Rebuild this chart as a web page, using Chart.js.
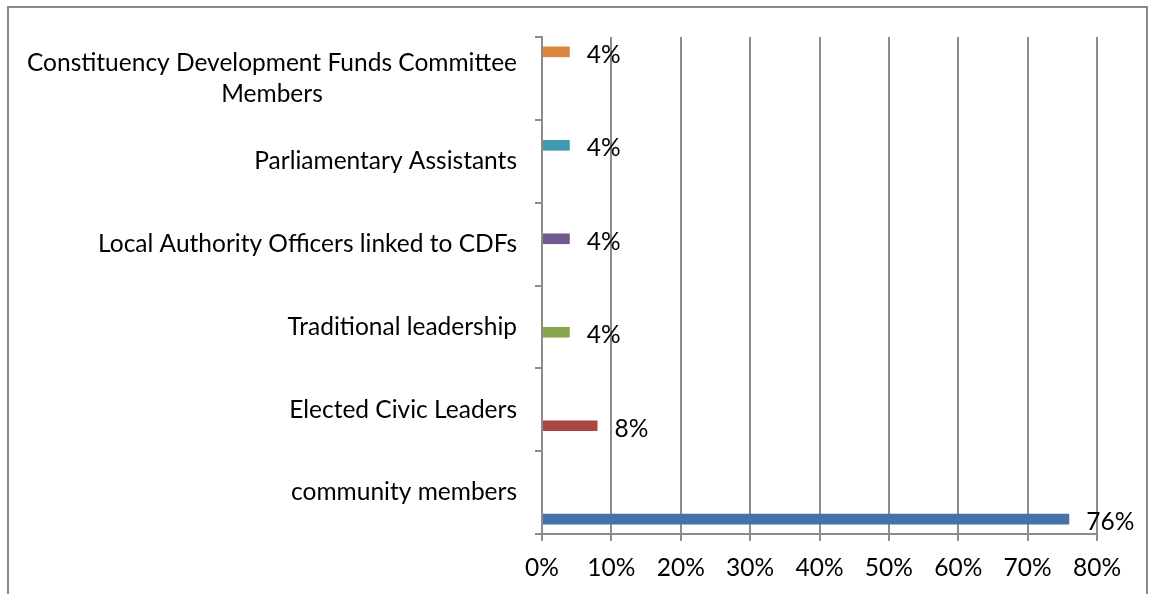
<!DOCTYPE html>
<html>
<head>
<meta charset="utf-8">
<script src="https://cdn.jsdelivr.net/npm/chart.js@4.4.1/dist/chart.umd.min.js"></script>
<style>
  html, body { margin: 0; padding: 0; background: #fff; }
  #wrap { width: 1149px; height: 594px; position: relative; }
</style>
</head>
<body>
<div id="wrap"><canvas id="chart"></canvas></div>
<script>
// ========================== Datos
const categories = [
    ["Constituency Development Funds Committee", "Members"],
    ["Parliamentary Assistants"],
    ["Local Authority Officers linked to CDFs"],
    ["Traditional leadership"],
    ["Elected Civic Leaders"],
    ["community members"]
];
const values = [4, 4, 4, 4, 8, 76];
const barColors = ["#DB843D", "#4198AF", "#71588F", "#89A54E", "#AA4643", "#4572A7"];
const xTicks = [0, 10, 20, 30, 40, 50, 60, 70, 80];

const FONT = "Lato";
const FSIZE = 24.5;
const GRID = "#8c8c8c";

// one dataset per category so each bar keeps its own slot in the group
const datasets = values.map(function (v, i) {
    return {
        label: categories[i].join(" "),
        data: values.map(function (_, j) { return j === i ? v : null; }),
        backgroundColor: barColors[i],
        categoryPercentage: 0.77,
        barPercentage: 1.0
    };
});

// ========================== Plugins
const frame = {
    id: "frame",
    beforeDraw(chart) {
        const c = chart.ctx;
        c.save();
        c.fillStyle = "#fff";
        c.fillRect(0, 0, chart.width, chart.height);
        c.strokeStyle = "#8a8a8a";
        c.lineWidth = 2;
        c.strokeRect(8, 7, 1139, 620);
        c.restore();
    }
};

const catLabels = {
    id: "catLabels",
    afterDraw(chart) {
        const c = chart.ctx;
        const y = chart.scales.y;
        const right = 517;
        c.save();
        c.font = FSIZE + "px " + FONT;
        c.fillStyle = "#000";
        c.textAlign = "center";
        c.textBaseline = "middle";
        const lh = 31;
        categories.forEach(function (lines, i) {
            const w = Math.max.apply(null, lines.map(function (l) { return c.measureText(l).width; }));
            const cx = right - w / 2;
            const cy = y.getPixelForValue(i);
            lines.forEach(function (l, k) {
                c.fillText(l, cx, cy + (k - (lines.length - 1) / 2) * lh);
            });
        });
        c.restore();
    }
};

const valueLabels = {
    id: "valueLabels",
    afterDatasetsDraw(chart) {
        const c = chart.ctx;
        c.save();
        c.font = FSIZE + "px " + FONT;
        c.fillStyle = "#000";
        c.textAlign = "left";
        c.textBaseline = "middle";
        chart.data.datasets.forEach(function (ds, i) {
            const meta = chart.getDatasetMeta(i);
            meta.data.forEach(function (bar, j) {
                if (ds.data[j] == null) return;
                c.fillText(ds.data[j] + "%", bar.x + 17, bar.y + 3);
            });
        });
        c.restore();
    }
};

// ========================== Gráfica
new Chart(document.getElementById("chart"), {
    type: "bar",
    data: { labels: categories.map(function (l) { return l.join(" "); }), datasets: datasets },
    options: {
        indexAxis: "y",
        responsive: true,
        maintainAspectRatio: false,
        animation: false,
        layout: { padding: { top: 37, right: 52, left: 0, bottom: 0 } },
        plugins: {
            legend: { display: false },
            tooltip: { enabled: false }
        },
        scales: {
            x: {
                min: 0,
                max: 80,
                afterBuildTicks: function (axis) {
                    axis.ticks = xTicks.map(function (v) { return { value: v }; });
                },
                afterFit: function (axis) { axis.height = 60; },
                ticks: {
                    callback: function (v) { return v + "%"; },
                    font: { family: FONT, size: FSIZE },
                    color: "#000",
                    padding: 12,
                    maxRotation: 0
                },
                grid: { color: GRID, lineWidth: 2, tickLength: 7 },
                border: { color: GRID, width: 2 }
            },
            y: {
                afterFit: function (axis) { axis.width = 542; },
                ticks: { display: false },
                grid: { drawOnChartArea: false, color: GRID, lineWidth: 2, tickLength: 7, offset: true },
                border: { color: GRID, width: 2 }
            }
        }
    },
    plugins: [frame, catLabels, valueLabels]
});
</script>
</body>
</html>
